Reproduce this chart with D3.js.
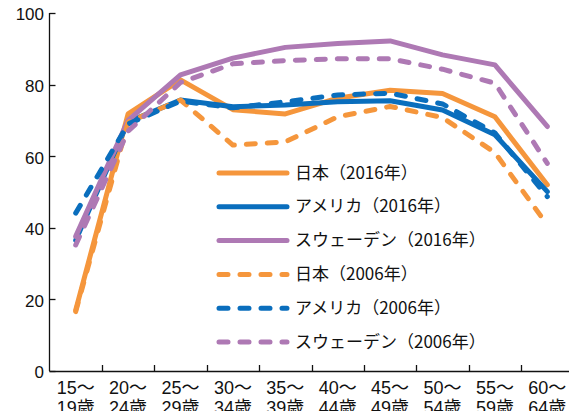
<!DOCTYPE html>
<html>
<head>
<meta charset="utf-8">
<script src="https://cdn.jsdelivr.net/npm/d3@7/dist/d3.min.js"></script>
<style>
  body { margin: 0; background: #fff; }
  svg { display: block; }
  text { font-family: "Liberation Sans", "Noto Sans CJK JP", sans-serif; fill: #111; }
</style>
</head>
<body>
<svg width="569" height="411"></svg>
<script>
// 年齢階級
var ageTop = ["15～", "20～", "25～", "30～", "35～", "40～", "45～", "50～", "55～", "60～"];
var ageBottom = ["19歳", "24歳", "29歳", "34歳", "39歳", "44歳", "49歳", "54歳", "59歳", "64歳"];

var yTicks = [0, 20, 40, 60, 80, 100];

// 労働力率 (%)
var japan2016  = [17.0, 71.8, 81.3, 73.0, 71.8, 76.2, 78.4, 77.5, 71.0, 52.0];
var usa2016    = [36.5, 69.6, 75.7, 73.8, 74.3, 75.2, 75.5, 72.9, 66.0, 50.1];
var sweden2016 = [37.6, 70.0, 82.7, 87.4, 90.4, 91.5, 92.2, 88.3, 85.5, 68.3];
var japan2006  = [16.6, 69.5, 75.7, 63.1, 64.0, 71.0, 73.9, 70.8, 61.0, 40.8];
var usa2006    = [44.1, 69.0, 75.4, 73.5, 75.2, 77.1, 77.6, 74.6, 66.5, 48.7];
var sweden2006 = [35.2, 67.0, 80.6, 85.8, 86.7, 87.2, 87.2, 84.3, 80.4, 58.0];

var seriesNames = ["日本（2016年）", "アメリカ（2016年）", "スウェーデン（2016年）",
                   "日本（2006年）", "アメリカ（2006年）", "スウェーデン（2006年）"];
var seriesValues = [japan2016, usa2016, sweden2016, japan2006, usa2006, sweden2006];
var seriesColors = ["#f5963c", "#0a6ebd", "#ae79b4", "#f5963c", "#0a6ebd", "#ae79b4"];
var seriesDashed = [false, false, false, true, true, true];

var svg = d3.select("svg");
var axisX = 49.5, plotTop = 13, plotBottom = 371;

var x = d3.scaleBand().domain(d3.range(ageTop.length)).range([axisX, axisX + 524]);
var y = d3.scaleLinear().domain([0, 100]).range([plotBottom, plotTop]);

// y axis
svg.append("line")
  .attr("x1", axisX).attr("x2", axisX)
  .attr("y1", y(100)).attr("y2", y(0))
  .attr("stroke", "#111").attr("stroke-width", 1.3);

svg.selectAll(".ytick").data(yTicks).enter().append("line")
  .attr("x1", axisX).attr("x2", axisX + 6)
  .attr("y1", function(d) { return Math.round(y(d)) + 0.5; })
  .attr("y2", function(d) { return Math.round(y(d)) + 0.5; })
  .attr("stroke", "#111").attr("stroke-width", 1.3);

svg.selectAll(".ylab").data(yTicks).enter().append("text")
  .attr("x", 44)
  .attr("y", function(d) { return y(d) + 3; })
  .attr("text-anchor", "end")
  .attr("dominant-baseline", "middle")
  .style("font-size", "17px")
  .text(function(d) { return d; });

// x axis
svg.append("line")
  .attr("x1", axisX).attr("x2", 569)
  .attr("y1", plotBottom + 0.5).attr("y2", plotBottom + 0.5)
  .attr("stroke", "#111").attr("stroke-width", 1.3);

svg.selectAll(".xtick").data(d3.range(1, ageTop.length)).enter().append("line")
  .attr("x1", function(d) { return Math.round(x(d)) + 0.5; })
  .attr("x2", function(d) { return Math.round(x(d)) + 0.5; })
  .attr("y1", plotBottom).attr("y2", plotBottom - 6)
  .attr("stroke", "#111").attr("stroke-width", 1.3);

var xl = svg.selectAll(".xlab").data(d3.range(ageTop.length)).enter().append("g")
  .attr("transform", function(d) { return "translate(" + (x(d) + x.bandwidth() / 2) + ",0)"; });
xl.append("text")
  .attr("y", 394).attr("text-anchor", "middle")
  .style("font-size", "18px")
  .text(function(d) { return ageTop[d]; });
xl.append("text")
  .attr("y", 414).attr("text-anchor", "middle")
  .style("font-size", "18px")
  .text(function(d) { return ageBottom[d]; });

// lines
var line = d3.line()
  .x(function(d, i) { return x(i) + x.bandwidth() / 2; })
  .y(function(d) { return y(d); });

seriesValues.forEach(function(vals, k) {
  svg.append("path")
    .datum(vals)
    .attr("fill", "none")
    .attr("stroke", seriesColors[k])
    .attr("stroke-width", 5)
    .attr("stroke-linejoin", "round")
    .attr("stroke-linecap", "round")
    .attr("stroke-dasharray", seriesDashed[k] ? "9,12" : null)
    .attr("d", line);
});

// legend
var lg = svg.selectAll(".leg").data(seriesNames).enter().append("g")
  .attr("transform", function(d, i) { return "translate(219," + (173 + i * 33.8) + ")"; });
lg.append("line")
  .attr("x1", 0).attr("x2", 68)
  .attr("stroke", function(d, i) { return seriesColors[i]; })
  .attr("stroke-width", 5)
  .attr("stroke-linecap", "round")
  .attr("stroke-dasharray", function(d, i) { return seriesDashed[i] ? "9,12" : null; });
lg.append("text")
  .attr("x", 76).attr("y", 1)
  .attr("dominant-baseline", "middle")
  .style("font-size", "17px")
  .style("font-family", "'Noto Sans CJK JP', sans-serif")
  .text(function(d) { return d; });
</script>
</body>
</html>
